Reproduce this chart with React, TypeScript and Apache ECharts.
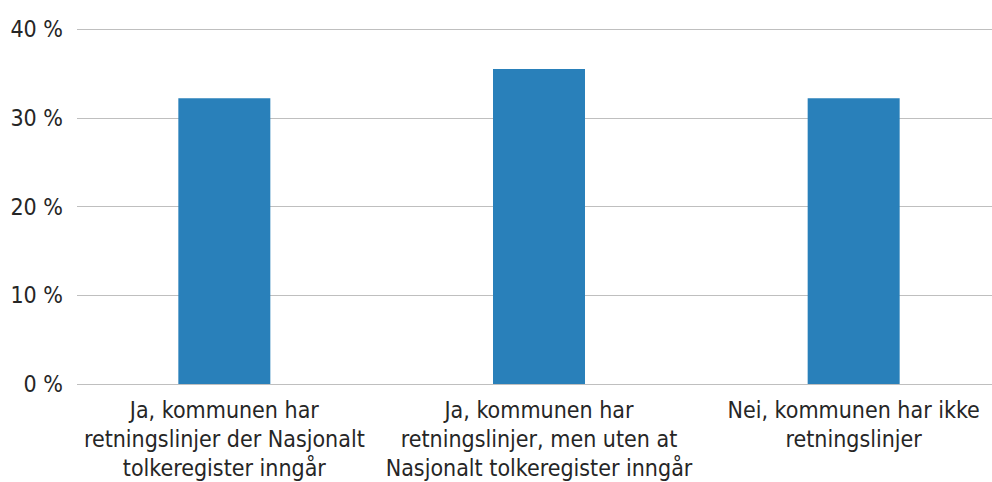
import React, { useEffect, useRef } from "react";
import * as echarts from "echarts";

const categories = [
  "Ja, kommunen har\nretningslinjer der Nasjonalt\ntolkeregister inngår",
  "Ja, kommunen har\nretningslinjer, men uten at\nNasjonalt tolkeregister inngår",
  "Nei, kommunen har ikke\nretningslinjer",
];
const values = [32.2, 35.5, 32.2];
const yTicks = [0, 10, 20, 30, 40];

const FONT = "'DejaVu Sans Condensed', 'DejaVu Sans', sans-serif";

export default function App() {
  const ref = useRef<HTMLDivElement>(null);
  useEffect(() => {
    if (!ref.current) return;
    const chart = echarts.init(ref.current, undefined, { renderer: "svg" });
    chart.setOption({
      animation: false,
      grid: { left: 67, right: 0, top: 29, bottom: 97, containLabel: false },
      xAxis: {
        type: "category",
        data: categories,
        axisLine: { show: true, lineStyle: { color: "#bfbfbf", width: 1 } },
        axisTick: { show: false },
        axisLabel: {
          interval: 0,
          margin: 11,
          color: "#262626",
          fontFamily: FONT,
          fontSize: 23,
          lineHeight: 29,
        },
      },
      yAxis: {
        type: "value",
        min: yTicks[0],
        max: yTicks[yTicks.length - 1],
        interval: 10,
        axisLine: { show: false },
        axisTick: { show: false },
        splitLine: { lineStyle: { color: "#bfbfbf", width: 1 } },
        axisLabel: {
          margin: 4,
          color: "#262626",
          fontFamily: FONT,
          fontSize: 23,
          formatter: (v: number) => `${v} %`,
        },
      },
      graphic: [
        {
          type: "rect",
          z: 100,
          shape: { x: 65, y: 20, width: 12, height: 372 },
          style: { fill: "#ffffff" },
          silent: true,
        },
      ],
      series: [
        {
          type: "bar",
          data: values,
          barWidth: 92,
          itemStyle: { color: "#2980ba" },
        },
      ],
    });
    return () => chart.dispose();
  }, []);
  return (
    <div style={{ position: "fixed", left: 0, top: 0, width: 992, height: 482, overflow: "hidden", background: "#fff" }}>
      <div ref={ref} style={{ width: 1011, height: 482 }} />
    </div>
  );
}
